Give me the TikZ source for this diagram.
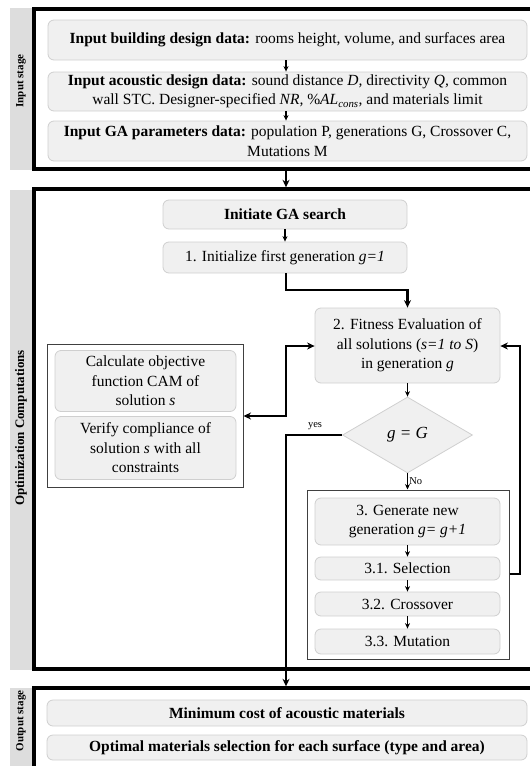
\documentclass[tikz,border=0pt]{standalone}
\usepackage{fontspec}
\setmainfont{Liberation Serif}
\usetikzlibrary{shapes.geometric,arrows.meta}
\definecolor{boxfill}{HTML}{F0F0F0}
\definecolor{boxline}{HTML}{CFCFCF}
\definecolor{stripfill}{HTML}{DDDDDD}
\definecolor{grpline}{HTML}{404040}
\tikzset{
  gbox/.style={draw=boxline, fill=boxfill, rounded corners=6pt, line width=0.8pt,
    align=center, inner sep=0pt, font=\fontsize{15.5}{19.5}\selectfont},
  framebox/.style={draw=black, line width=3.4pt, inner sep=0pt},
  strip/.style={fill=stripfill, draw=none, inner sep=0pt},
  striptext/.style={rotate=90, font=\bfseries\fontsize{10.5}{12}\selectfont},
  grp/.style={draw=grpline, line width=1pt, inner sep=0pt},
  thinarrow/.style={-{Stealth[length=5.5pt,width=5pt]}, line width=1.5pt},
  thickarrow/.style={-{Stealth[length=7.5pt,width=7pt]}, line width=2.6pt},
  thickboth/.style={{Stealth[length=7.5pt,width=7pt]}-{Stealth[length=7.5pt,width=7pt]}, line width=2.6pt},
  smalltext/.style={font=\fontsize{10.5}{12}\selectfont, inner sep=1pt},
}
\begin{document}
\begin{tikzpicture}[x=1pt,y=-1pt]
\clip (0,0) rectangle (530,766);
\useasboundingbox (0,0) rectangle (530,766);
% label strips
\node[strip, minimum width=22pt, minimum height=162pt] (s1) at (21,89) {};
\node[striptext, font=\bfseries\fontsize{11}{12}\selectfont] (t1) at (21,81) {Input stage};
\node[strip, minimum width=22pt, minimum height=480pt] (s2) at (21,429.5) {};
\node[striptext, font=\bfseries\fontsize{13}{14}\selectfont] (t2) at (21,428) {Optimization Computations};
\node[strip, minimum width=22pt, minimum height=100pt] (s3) at (21,738) {};
\node[striptext, font=\bfseries\fontsize{11}{12}\selectfont] (t3) at (21,721) {Output stage};
% frames
\node[framebox, minimum width=520pt, minimum height=160pt] (f1) at (294,89) {};
\node[framebox, minimum width=520pt, minimum height=480pt] (f2) at (294,429) {};
\node[framebox, minimum width=520pt, minimum height=120pt] (f3) at (294,748) {};
% input stage
\node[gbox, minimum width=479pt, minimum height=40pt] (b1) at (287.5,40)
  {\textbf{Input building design data:} rooms height, volume, and surfaces area};
\node[gbox, minimum width=479pt, minimum height=39pt] (b2) at (287.5,91.5)
  {\textbf{Input acoustic design data:} sound distance \textit{D,} directivity \textit{Q,} common\\
   wall STC. Designer-specified \textit{NR,} \%\textit{AL}\textsubscript{\textit{cons}}, and materials limit};
\node[gbox, minimum width=479pt, minimum height=40pt] (b3) at (287.5,141)
  {\textbf{Input GA parameters data:} population P, generations G, Crossover C,\\ Mutations M};
\draw[thinarrow] (b1.south -| 286,0) -- (b2.north -| 286,0);
\draw[thinarrow] (b2.south -| 286,0) -- (b3.north -| 286,0);
\coordinate (ax) at (286,0);
\draw[thickarrow] (ax |- f1.south) -- (ax |- f2.north);
% optimization
\node[gbox, minimum width=244pt, minimum height=29pt] (ini) at (285,214.5) {\textbf{Initiate GA search}};
\node[gbox, minimum width=244pt, minimum height=31pt] (gen1) at (285,257.5) {1. Initialize first generation \textit{g=1}};
\draw[thinarrow] (ini) -- (gen1);
\node[gbox, minimum width=185pt, minimum height=75pt] (fit) at (407.5,345.5)
  {2. Fitness Evaluation of\\ all solutions (\textit{s=1 to S})\\ in generation \textit{g}};
\coordinate (c1) at (286,290);
\draw[thickarrow] (gen1.south -| c1) -- (c1) -| (fit.north);
% left group
\node[grp, minimum width=196pt, minimum height=143pt] (gl) at (145,416) {};
\node[gbox, minimum width=181pt, minimum height=61pt] (calc) at (145.5,381)
  {Calculate objective\\ function CAM of\\ solution \textit{s}};
\node[gbox, minimum width=181pt, minimum height=63pt] (ver) at (145.5,448)
  {Verify compliance of\\ solution \textit{s} with all\\ constraints};
\coordinate (lc1) at (286,416);
\coordinate (lc2) at (286,346);
\draw[thickboth] (gl.east |- lc1) -- (lc1) -- (lc2) -- (fit.west |- lc2);
% decision
\node[diamond, draw=boxline, fill=boxfill, line width=0.8pt, aspect=1.7, inner sep=0pt,
  minimum width=130pt, minimum height=76pt, font=\itshape\fontsize{17}{20}\selectfont] (dia) at (407.5,435) {g = G};
\draw[thinarrow] (fit.south) -- (dia.north);
% group 3
\node[grp, minimum width=202pt, minimum height=169pt] (g3) at (408,574.5) {};
\node[gbox, minimum width=185pt, minimum height=47pt] (gnew) at (407.5,521.5)
  {3. Generate new\\ generation \textit{g= g+1}};
\node[gbox, minimum width=185pt, minimum height=23pt] (sel) at (407.5,568.5) {3.1. Selection};
\node[gbox, minimum width=185pt, minimum height=24pt] (cro) at (407.5,604) {3.2. Crossover};
\node[gbox, minimum width=185pt, minimum height=25pt] (mut) at (407.5,641.5) {3.3. Mutation};
\draw[thinarrow] (dia.south) -- node[smalltext, right, pos=0.5] (no) {No} (g3.north -| dia.south);
\draw[thinarrow] (gnew) -- (sel);
\draw[thinarrow] (sel) -- (cro);
\draw[thinarrow] (cro) -- (mut);
\coordinate (rc1) at (520,574);
\coordinate (rc2) at (520,346);
\draw[thickarrow] (g3.east |- rc1) -- (rc1) -- (rc2) -- (fit.east |- rc2);
% yes branch
\coordinate (yc) at (286,435);
\draw[thickarrow] (dia.west) -- (yc) -- (yc |- f3.north);
\node[smalltext] (yes) at (315,426) {yes};
% output stage
\node[gbox, minimum width=480pt, minimum height=26pt, font=\bfseries\fontsize{15.5}{19.5}\selectfont] (o1) at (287,713)
  {Minimum cost of acoustic materials};
\node[gbox, minimum width=480pt, minimum height=25pt, font=\bfseries\fontsize{15.5}{19.5}\selectfont] (o2) at (287,747.5)
  {Optimal materials selection for each surface (type and area)};
\end{tikzpicture}
\end{document}
